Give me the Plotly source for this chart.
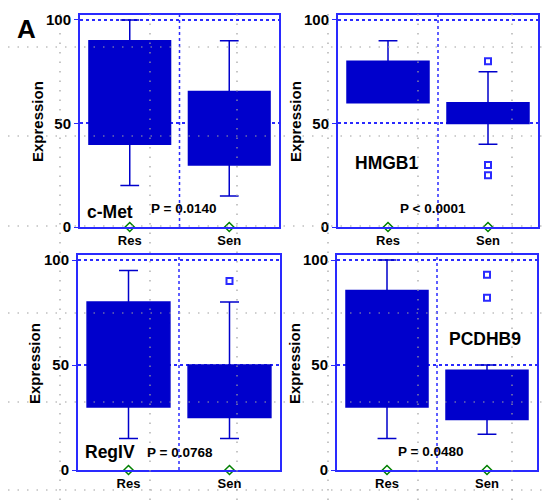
import plotly.graph_objects as go
from plotly.subplots import make_subplots

# data
genes = ["c-Met", "HMGB1", "RegIV", "PCDHB9"]
p_labels = ["P = 0.0140", "P < 0.0001", "P = 0.0768", "P = 0.0480"]
groups = ["Res", "Sen"]

q1 = [[40, 30], [60, 50], [30, 25], [30, 24]]
med = [[77, 40], [78, 55], [70, 38], [55, 42]]
q3 = [[90, 65.5], [80, 60], [80, 50], [85.5, 47.5]]
low = [[20, 15], [60, 40], [15, 15], [15, 17]]
high = [[100, 90], [90, 75], [95, 80], [100, 50]]

out_sen = [[], [80, 30, 25], [90], [93, 82]]

base = [0, 0]

# page body has an 8px margin, so the figure is shrunk by that much
OFF = 8
W, H = 550 - OFF, 500 - OFF
BOX = "#0000cc"
FRAME = "#2a2aff"
FONT = "Arial, Liberation Sans, sans-serif"


def px(x):
    return (x - OFF) / W


def py(y):
    return 1 - (y - OFF) / H


# panel frames in window pixels: left, right, top, bottom(value 0)
frames = [(80, 279, 15, 227), (338, 538, 15, 227),
          (78, 280, 255, 470), (337, 537, 255, 470)]

fig = make_subplots(rows=2, cols=2)

for i in range(4):
    r, c = i // 2 + 1, i % 2 + 1
    fig.add_trace(go.Box(
        x=groups, q1=q1[i], median=med[i], q3=q3[i],
        lowerfence=low[i], upperfence=high[i],
        fillcolor=BOX, line=dict(color=BOX, width=1.5),
        width=0.82, whiskerwidth=0.23, boxpoints=False,
        hoverinfo="skip", showlegend=False), row=r, col=c)
    if out_sen[i]:
        fig.add_trace(go.Scatter(
            x=["Sen"] * len(out_sen[i]), y=out_sen[i], mode="markers",
            marker=dict(symbol="square-open", size=6, color=FRAME,
                        line=dict(width=2)),
            showlegend=False), row=r, col=c)
    fig.add_trace(go.Scatter(
        x=groups, y=base, mode="markers", cliponaxis=False,
        marker=dict(symbol="diamond-open", size=7, color="#008000",
                    line=dict(width=1.5)),
        showlegend=False), row=r, col=c)

    l, rr, t, b = frames[i]
    xa = "xaxis" if i == 0 else f"xaxis{i + 1}"
    ya = "yaxis" if i == 0 else f"yaxis{i + 1}"
    fig.layout[xa].update(
        domain=[px(l), px(rr)], type="category", range=[-0.5, 1.5],
        automargin=False,
        showline=True, mirror=True, linecolor=FRAME, linewidth=2,
        showgrid=False, ticks="",
        tickfont=dict(family=FONT, size=13, color="black", weight="bold"))
    fig.layout[ya].update(
        domain=[py(b), py(t)], range=[0, 102.4], automargin=False,
        tickvals=[0, 50, 100], showline=True, mirror=True,
        linecolor=FRAME, linewidth=2, ticks="outside", ticklen=4,
        tickcolor=FRAME, zeroline=False,
        showgrid=True, gridcolor=FRAME, griddash="dot", gridwidth=1.5,
        tickfont=dict(family=FONT, size=15, color="black", weight="bold"))

    xr = "x" if i == 0 else f"x{i + 1}"
    fig.add_shape(type="line", xref=xr, yref=f"{'y' if i == 0 else 'y' + str(i + 1)} domain",
                  x0=0.5, x1=0.5, y0=0, y1=1,
                  line=dict(color=FRAME, width=1.5, dash="dot"))

# labels inside panels (window pixel centres)
gene_pos = [(110, 212), (386, 163), (110, 452), (485, 339)]
p_pos = [(183, 209), (433, 209), (180, 452), (430, 451)]
title_pos = [(38, 122), (296, 122), (34, 364), (294, 364)]


def label(x, y, text, size, angle=0):
    fig.add_annotation(x=px(x), y=py(y), xref="paper", yref="paper",
                       xanchor="center", yanchor="middle", text=text,
                       textangle=angle, showarrow=False,
                       font=dict(family=FONT, size=size, color="black", weight="bold"))


for i in range(4):
    label(*gene_pos[i], genes[i], 17.5)
    label(*p_pos[i], p_labels[i], 13.5)
    label(*title_pos[i], "Expression", 15, -90)

label(26, 29, "A", 26)

# light dotted background grid that sits over the whole image
for gx in [60, 150, 237, 328, 418, 512]:
    fig.add_shape(type="line", xref="paper", yref="paper", layer="above",
                  x0=px(gx), x1=px(gx), y0=0, y1=1,
                  line=dict(color="#a0a0a0", width=1.2, dash="1.5px,8px"))
for gy in [47, 136, 226, 313, 402, 490]:
    fig.add_shape(type="line", xref="paper", yref="paper", layer="above",
                  x0=0, x1=1, y0=py(gy), y1=py(gy),
                  line=dict(color="#a0a0a0", width=1.2, dash="1.5px,8px"))

fig.update_layout(width=W, height=H, margin=dict(l=0, r=0, t=0, b=0),
                  paper_bgcolor="white", plot_bgcolor="rgba(0,0,0,0)",
                  boxmode="overlay", showlegend=False,
                  font=dict(family=FONT))

fig.write_html("out.html")
